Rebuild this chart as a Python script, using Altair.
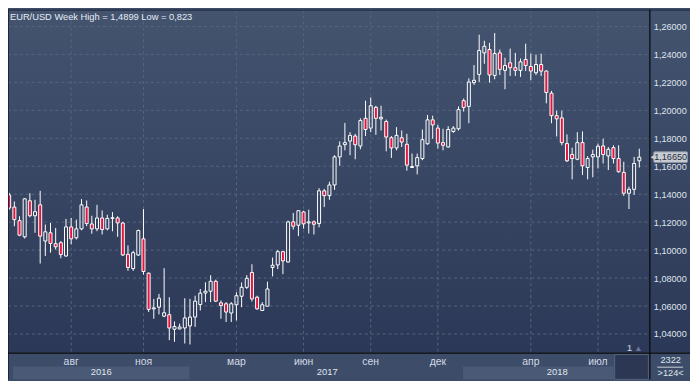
import altair as alt
import pandas as pd

# ---- weekly EUR/USD candles (index = bar number) ----
opens = [1.1395,1.1308,1.1211,1.1095,1.1353,1.1246,1.1324,1.1065,1.1124,1.1046,
1.1053,1.0958,1.1166,1.1088,1.1152,1.1308,1.1187,1.1152,1.1230,1.1152,
1.1227,1.1230,1.1194,1.0970,1.0868,1.0965,1.1081,1.0835,1.0580,1.0592,
1.0528,1.0538,1.0434,1.0436,1.0443,1.0458,1.0521,1.0611,1.0693,1.0706,
1.0777,1.0623,1.0616,1.0550,1.0609,1.0670,1.0734,1.0840,1.0663,1.0568,
1.0599,1.0876,1.0894,1.0989,1.0915,1.1202,1.1178,1.1273,1.1195,1.1202,
1.1190,1.1424,1.1390,1.1466,1.1667,1.1754,1.1780,1.1816,1.1745,1.1943,
1.1873,1.2021,1.1939,1.1920,1.1804,1.1731,1.1804,1.1757,1.1591,1.1603,
1.1655,1.1761,1.1932,1.1873,1.1769,1.1738,1.1849,1.1868,1.2069,1.2028,
1.2198,1.2257,1.2411,1.2435,1.2250,1.2411,1.2286,1.2340,1.2305,1.2286,
1.2364,1.2314,1.2269,1.2328,1.2281,1.2123,1.1962,1.1946,1.1762,1.1684,
1.1650,1.1769,1.1591,1.1667,1.1667,1.1745,1.1674,1.1733,1.1655,1.1556,
1.1407,1.1435,1.1639]

highs = [1.1410,1.1348,1.1242,1.1372,1.1407,1.1360,1.1424,1.1183,1.1194,1.1159,
1.1065,1.1223,1.1230,1.1218,1.1365,1.1355,1.1246,1.1324,1.1284,1.1253,
1.1272,1.1242,1.1202,1.1034,1.0994,1.1147,1.1294,1.0840,1.0651,1.0687,
1.0871,1.0663,1.0490,1.0474,1.0656,1.0651,1.0674,1.0722,1.0770,1.0821,
1.0789,1.0640,1.0628,1.0628,1.0698,1.0769,1.0821,1.0899,1.0674,1.0628,
1.0774,1.0947,1.1000,1.0993,1.1211,1.1266,1.1282,1.1282,1.1289,1.1213,
1.1443,1.1438,1.1489,1.1679,1.1778,1.1910,1.1844,1.1832,1.1943,1.2069,
1.2092,1.2033,1.2033,1.1934,1.1816,1.1880,1.1856,1.1832,1.1691,1.1691,
1.1863,1.1967,1.1962,1.1896,1.1868,1.1887,1.1887,1.2028,1.2085,1.2229,
1.2324,1.2541,1.2498,1.2482,1.2553,1.2435,1.2376,1.2442,1.2411,1.2371,
1.2477,1.2406,1.2399,1.2406,1.2286,1.2139,1.1998,1.1998,1.1828,1.1733,
1.1844,1.1849,1.1672,1.1719,1.1762,1.1797,1.1738,1.1750,1.1750,1.1632,
1.1454,1.1667,1.1726]

lows = [1.1289,1.1171,1.1100,1.1083,1.1235,1.1124,1.0904,1.0958,1.0982,1.1005,
1.0942,1.0953,1.1041,1.1076,1.1142,1.1171,1.1117,1.1135,1.1112,1.1142,
1.1135,1.1095,1.0958,1.0852,1.0852,1.0958,1.0824,1.0557,1.0509,1.0540,
1.0520,1.0356,1.0344,1.0434,1.0332,1.0325,1.0451,1.0568,1.0628,1.0628,
1.0628,1.0509,1.0486,1.0486,1.0497,1.0592,1.0722,1.0632,1.0573,1.0564,
1.0599,1.0812,1.0864,1.0828,1.0911,1.1147,1.1100,1.1154,1.1119,1.1112,
1.1163,1.1308,1.1360,1.1431,1.1603,1.1714,1.1679,1.1650,1.1721,1.1816,
1.1844,1.1825,1.1856,1.1707,1.1660,1.1714,1.1738,1.1568,1.1589,1.1542,
1.1643,1.1754,1.1797,1.1726,1.1714,1.1733,1.1839,1.1856,1.1991,1.1908,
1.2182,1.2203,1.2333,1.2198,1.2222,1.2253,1.2151,1.2246,1.2246,1.2239,
1.2281,1.2215,1.2253,1.2246,1.2050,1.1908,1.1813,1.1750,1.1630,1.1506,
1.1643,1.1537,1.1506,1.1521,1.1584,1.1620,1.1573,1.1620,1.1554,1.1388,
1.1294,1.1395,1.1591]

closes = [1.1301,1.1218,1.1107,1.1367,1.1246,1.1275,1.1100,1.1131,1.1048,1.1024,
1.0968,1.1166,1.1081,1.1152,1.1324,1.1190,1.1152,1.1230,1.1147,1.1227,
1.1232,1.1195,1.0965,1.0876,1.0982,1.1140,1.0847,1.0576,1.0587,1.0656,
1.0552,1.0443,1.0453,1.0450,1.0515,1.0521,1.0635,1.0692,1.0706,1.0777,
1.0635,1.0604,1.0557,1.0616,1.0674,1.0734,1.0798,1.0651,1.0580,1.0609,
1.0722,1.0892,1.0989,1.0923,1.1202,1.1171,1.1282,1.1188,1.1202,1.1185,
1.1424,1.1390,1.1466,1.1667,1.1745,1.1769,1.1821,1.1754,1.1927,1.1863,
1.2033,1.1943,1.1950,1.1809,1.1731,1.1821,1.1773,1.1608,1.1598,1.1662,
1.1790,1.1932,1.1896,1.1766,1.1750,1.1863,1.1873,1.2005,1.2021,1.2203,
1.2215,1.2428,1.2458,1.2253,1.2406,1.2293,1.2321,1.2305,1.2286,1.2347,
1.2321,1.2281,1.2328,1.2281,1.2128,1.1962,1.1939,1.1769,1.1639,1.1655,
1.1769,1.1603,1.1655,1.1684,1.1743,1.1684,1.1721,1.1655,1.1561,1.1407,
1.1435,1.1620,1.1665]

month_ticks = [12, 26, 44, 57, 70, 83, 101, 114]
month_labels = ["авг", "ноя", "мар", "июн", "сен", "дек", "апр", "июл"]
year_labels = ["2016", "2017", "2018"]
y_ticks = [1.04, 1.06, 1.08, 1.10, 1.12, 1.14, 1.16, 1.18, 1.20, 1.22, 1.24, 1.26]
title_text = "EUR/USD Week High = 1,4899 Low = 0,823"
last_label = "1,16650"
bars_total = "2322"
bars_visible = ">124<"
page_no = "1"

# ---- layout / style ----
W, H = 647, 346
RP, BP = 41, 27
FONT = "Liberation Sans"
TXT = "#dfe5ee"
RED = "#e3143f"

xs = alt.Scale(domain=[-0.23, 123.95], nice=False, zero=False)
ys = alt.Scale(domain=[1.02668, 1.27205], nice=False, zero=False)

n = len(opens)
candles = pd.DataFrame({"i": list(range(n)), "open": opens, "high": highs,
                        "low": lows, "close": closes})
candles["dir"] = ["up" if c >= o else "down" for o, c in zip(opens, closes)]

one = pd.DataFrame({"k": [0]})


def box(x1, x2, y1, y2, **kw):
    return alt.Chart(one).mark_rect(**kw).encode(
        x=alt.value(x1), x2=alt.value(x2), y=alt.value(y1), y2=alt.value(y2))


def line(x1, x2, y1, y2, **kw):
    return alt.Chart(one).mark_rule(**kw).encode(
        x=alt.value(x1), x2=alt.value(x2), y=alt.value(y1), y2=alt.value(y2))


def label(txt, x, y, **kw):
    return alt.Chart(one).mark_text(text=txt, font=FONT, **kw).encode(
        x=alt.value(x), y=alt.value(y))


grad = alt.LinearGradient(
    gradient="linear",
    stops=[alt.GradientStop(color="#44546f", offset=0),
           alt.GradientStop(color="#2b3857", offset=1)],
    x1=0, x2=0, y1=0, y2=1)

bg = box(0, W + RP, 0, H, fill=grad)
band = box(0, W + RP, H, H + BP, fill="#3d4c68")
blk16 = box(5, 183, 360, H + BP, fill="#4a5975")
blk18 = box(459, 611, 360, H + BP, fill="#4a5975")
darkbox = box(612, 646, 348, H + BP, fill="#2b3753", stroke="#56637e", strokeWidth=1)

hgrid = alt.Chart(pd.DataFrame({"v": y_ticks})).mark_rule(
    color="#56657f", strokeDash=[3, 3], strokeWidth=1).encode(
    y=alt.Y("v:Q", scale=ys, axis=alt.Axis(
        orient="right", values=y_ticks, grid=False, domain=False, ticks=False,
        tickSize=0, labelPadding=4, labelAlign="left", labelBaseline="middle",
        labelColor=TXT, labelFont=FONT, labelFontSize=9.2, title=None, zindex=1,
        labelExpr="replace(format(datum.value, '.5f'), '.', ',')")),
    x=alt.value(0), x2=alt.value(W))

vgrid = alt.Chart(pd.DataFrame({"i": month_ticks})).mark_rule(
    color="#56657f", strokeDash=[3, 3], strokeWidth=1).encode(
    x=alt.X("i:Q", scale=xs, axis=None), y=alt.value(0), y2=alt.value(H))

base = alt.Chart(candles).transform_calculate(
    top="max(datum.open, datum.close)", bot="min(datum.open, datum.close)",
    xl="datum.i - 0.29", xr="datum.i + 0.29")

wick_hi = base.mark_rule(color="#ffffff", strokeWidth=1).encode(
    x=alt.X("i:Q", scale=xs, axis=None),
    y=alt.Y("high:Q", scale=ys, axis=None), y2="top:Q")
wick_lo = base.mark_rule(color="#ffffff", strokeWidth=1).encode(
    x=alt.X("i:Q", scale=xs, axis=None),
    y=alt.Y("bot:Q", scale=ys, axis=None), y2="low:Q")
body = base.mark_rect(stroke="#ffffff", strokeWidth=1).encode(
    x=alt.X("xl:Q", scale=xs, axis=None), x2="xr:Q",
    y=alt.Y("top:Q", scale=ys, axis=None), y2="bot:Q",
    fill=alt.Fill("dir:N", scale=alt.Scale(domain=["up", "down"],
                                           range=["transparent", RED]),
                  legend=None))

months = alt.Chart(pd.DataFrame({"i": month_ticks, "t": month_labels})).mark_text(
    font=FONT, fontSize=10.5, color="#d3dae6", baseline="middle").encode(
    x=alt.X("i:Q", scale=xs, axis=None), y=alt.value(355.5), text="t:N")

y16 = label(year_labels[0], 94, 366, fontSize=9.5, color=TXT, baseline="middle")
y17 = label(year_labels[1], 322, 366, fontSize=9.5, color=TXT, baseline="middle")
y18 = label(year_labels[2], 554, 366, fontSize=9.5, color=TXT, baseline="middle")

title = label(title_text, 2, 10.6, fontSize=9.4, color="#e6ecf4", align="left",
              baseline="alphabetic")

frame_top = line(0, W + RP, 0.5, 0.5, color="#1d2637", strokeWidth=1)
frame_left = line(0.5, 0.5, 0, H + BP, color="#1d2637", strokeWidth=1)
frame_v = line(W + 0.5, W + 0.5, 0, H + BP, color="#080808", strokeWidth=1.2)
frame_h = line(0, W + RP, H + 0.5, H + 0.5, color="#080808", strokeWidth=1.2)

cnt1 = label(bars_total, 668.5, 353.8, fontSize=9.3, color=TXT, baseline="middle")
cnt_line = line(655, 681, 360.7, 360.7, color="#c8d0dc", strokeWidth=1)
cnt2 = label(bars_visible, 668.5, 366.6, fontSize=9.3, color=TXT, baseline="middle")

pg = label(page_no, 627, 341.5, fontSize=10, color="#cfd6e2", baseline="middle")
pg_tri = alt.Chart(one).mark_point(shape="triangle-up", filled=True, size=28,
                                   color="#6a7794", opacity=1).encode(
    x=alt.value(636), y=alt.value(342))

tag_df = pd.DataFrame({"p": [closes[-1]], "t": [last_label]})
tag_base = alt.Chart(tag_df).transform_calculate(
    tt="datum.p + 0.0038", tb="datum.p - 0.0038")
tag_box = tag_base.mark_rect(fill="#c8ccd3", stroke="#8c95a5", strokeWidth=1,
                             cornerRadius=1).encode(
    x=alt.value(651.5), x2=alt.value(685.5),
    y=alt.Y("tt:Q", scale=ys, axis=None), y2="tb:Q")
tag_arrow = tag_base.mark_point(shape="triangle-left", filled=True, size=45,
                                color="#c8ccd3", opacity=1).encode(
    x=alt.value(651), y=alt.Y("p:Q", scale=ys, axis=None))
tag_text = tag_base.mark_text(font=FONT, fontSize=9.2, color="#27303f",
                              baseline="middle").encode(
    x=alt.value(668.5), y=alt.Y("p:Q", scale=ys, axis=None), text="t:N")

chart = alt.layer(
    bg, band, blk16, blk18, darkbox,
    hgrid, vgrid,
    wick_hi, wick_lo, body,
    months, y16, y17, y18, title,
    frame_top, frame_left, frame_v, frame_h,
    cnt1, cnt_line, cnt2, pg, pg_tri,
    tag_box, tag_arrow, tag_text,
).resolve_axis(y="independent").properties(
    width=W, height=H,
    padding={"left": 0, "top": 0, "right": RP, "bottom": BP},
    autosize=alt.AutoSizeParams(type="none"),
    background="#3d4c68",
).configure_view(stroke=None)

chart.save("out.html", embed_options={"renderer": "svg", "actions": False})
